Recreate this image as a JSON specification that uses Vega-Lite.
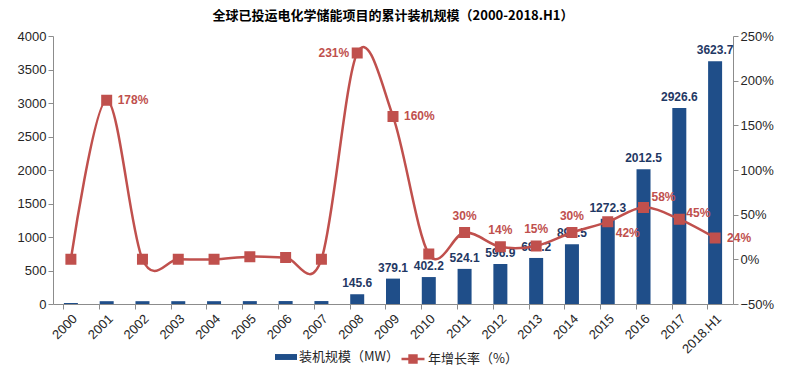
{
  "$schema": "https://vega.github.io/schema/vega-lite/v6.json",
  "width": 680,
  "height": 268,
  "autosize": {"type": "none"},
  "padding": {"left": 53, "top": 36, "right": 56, "bottom": 79},
  "background": "white",
  "title": {
    "text": "全球已投运电化学储能项目的累计装机规模（2000-2018.H1）",
    "font": "Noto Sans CJK SC",
    "fontSize": 13,
    "fontWeight": "bold",
    "color": "#000000",
    "anchor": "middle",
    "offset": 7
  },
  "config": {
    "view": {"stroke": null},
    "axis": {
      "labelFont": "Liberation Sans",
      "labelFontSize": 13,
      "labelColor": "#262626",
      "domainColor": "#8c8c8c",
      "tickColor": "#8c8c8c",
      "grid": false,
      "title": null
    },
    "legend": {
      "labelFont": "Noto Sans CJK SC",
      "labelFontSize": 13,
      "labelColor": "#262626"
    }
  },
  "data": {
    "values": [
      {"year": "2000", "mw": 15, "g": 0},
      {"year": "2001", "mw": 42, "g": 1.78},
      {"year": "2002", "mw": 42, "g": 0},
      {"year": "2003", "mw": 42, "g": 0},
      {"year": "2004", "mw": 42, "g": 0},
      {"year": "2005", "mw": 43, "g": 0.03},
      {"year": "2006", "mw": 44, "g": 0.02},
      {"year": "2007", "mw": 44, "g": 0},
      {"year": "2008", "mw": 145.6, "g": 2.31},
      {"year": "2009", "mw": 379.1, "g": 1.6},
      {"year": "2010", "mw": 402.2, "g": 0.06},
      {"year": "2011", "mw": 524.1, "g": 0.3},
      {"year": "2012", "mw": 596.9, "g": 0.14},
      {"year": "2013", "mw": 687.2, "g": 0.15},
      {"year": "2014", "mw": 893.5, "g": 0.3},
      {"year": "2015", "mw": 1272.3, "g": 0.42},
      {"year": "2016", "mw": 2012.5, "g": 0.58},
      {"year": "2017", "mw": 2926.6, "g": 0.45},
      {"year": "2018.H1", "mw": 3623.7, "g": 0.24}
    ]
  },
  "encoding": {
    "x": {
      "field": "year",
      "type": "nominal",
      "sort": null,
      "scale": {"paddingInner": 0.6, "paddingOuter": 0.3},
      "axis": {
        "labelAngle": -45,
        "bandPosition": 0,
        "tickSize": 5,
        "labelPadding": 3
      }
    }
  },
  "layer": [
    {
      "encoding": {
        "y": {
          "field": "mw",
          "type": "quantitative",
          "scale": {"domain": [0, 4000]},
          "axis": {
            "orient": "left",
            "format": "d",
            "values": [0, 500, 1000, 1500, 2000, 2500, 3000, 3500, 4000],
            "tickSize": 5
          }
        }
      },
      "layer": [
        {
          "mark": {"type": "bar", "size": 14},
          "encoding": {
            "fill": {
              "datum": "装机规模（MW）",
              "scale": {"range": ["#1F4E89"]},
              "legend": {
                "title": null,
                "orient": "none",
                "legendX": 222,
                "legendY": 310,
                "symbolType": "M-1,-0.27H1V0.27H-1Z",
                "symbolSize": 484,
                "symbolStrokeWidth": 0,
                "labelOffset": 2
              }
            }
          }
        },
        {
          "transform": [
            {"filter": {"field": "year", "oneOf": ["2008", "2009", "2010", "2011", "2012", "2013", "2014", "2015", "2016", "2017", "2018.H1"]}}
          ],
          "mark": {
            "type": "text",
            "baseline": "bottom",
            "dy": -4,
            "font": "Liberation Sans",
            "fontSize": 12,
            "fontWeight": "bold",
            "color": "#1F3864"
          },
          "encoding": {
            "text": {"field": "mw", "type": "quantitative", "format": ".1f"}
          }
        }
      ]
    },
    {
      "encoding": {
        "y": {
          "field": "g",
          "type": "quantitative",
          "scale": {"domain": [-0.5, 2.5]},
          "axis": {
            "orient": "right",
            "format": ".0%",
            "values": [-0.5, 0, 0.5, 1, 1.5, 2, 2.5],
            "tickSize": 5
          }
        }
      },
      "layer": [
        {
          "mark": {
            "type": "line",
            "interpolate": "cardinal",
            "strokeWidth": 2.5,
            "point": {"filled": true, "shape": "square", "size": 81, "color": "#C0504D"}
          },
          "encoding": {
            "stroke": {
              "datum": "年增长率（%）",
              "scale": {"range": ["#C0504D"]},
              "legend": {
                "title": null,
                "orient": "none",
                "legendX": 347,
                "legendY": 310,
                "symbolType": "M-1,0H1M-0.3,-0.3H0.3V0.3H-0.3Z",
                "symbolSize": 529,
                "symbolStrokeWidth": 2.5,
                "symbolFillColor": "#C0504D",
                "labelOffset": 2
              }
            }
          }
        },
        {
          "transform": [{"filter": {"field": "year", "oneOf": ["2001", "2009"]}}],
          "mark": {"type": "text", "align": "left", "baseline": "middle", "dx": 11, "font": "Liberation Sans", "fontSize": 12, "fontWeight": "bold", "color": "#C0504D"},
          "encoding": {"text": {"field": "g", "type": "quantitative", "format": ".0%"}}
        },
        {
          "transform": [{"filter": {"field": "year", "oneOf": ["2008"]}}],
          "mark": {"type": "text", "align": "right", "baseline": "middle", "dx": -8, "font": "Liberation Sans", "fontSize": 12, "fontWeight": "bold", "color": "#C0504D"},
          "encoding": {"text": {"field": "g", "type": "quantitative", "format": ".0%"}}
        },
        {
          "transform": [{"filter": {"field": "year", "oneOf": ["2011", "2012", "2013", "2014"]}}],
          "mark": {"type": "text", "align": "center", "baseline": "middle", "dy": -17, "font": "Liberation Sans", "fontSize": 12, "fontWeight": "bold", "color": "#C0504D"},
          "encoding": {"text": {"field": "g", "type": "quantitative", "format": ".0%"}}
        },
        {
          "transform": [{"filter": {"field": "year", "oneOf": ["2015"]}}],
          "mark": {"type": "text", "align": "left", "baseline": "middle", "dx": 8, "dy": 11, "font": "Liberation Sans", "fontSize": 12, "fontWeight": "bold", "color": "#C0504D"},
          "encoding": {"text": {"field": "g", "type": "quantitative", "format": ".0%"}}
        },
        {
          "transform": [{"filter": {"field": "year", "oneOf": ["2016"]}}],
          "mark": {"type": "text", "align": "left", "baseline": "middle", "dx": 8, "dy": -11, "font": "Liberation Sans", "fontSize": 12, "fontWeight": "bold", "color": "#C0504D"},
          "encoding": {"text": {"field": "g", "type": "quantitative", "format": ".0%"}}
        },
        {
          "transform": [{"filter": {"field": "year", "oneOf": ["2017"]}}],
          "mark": {"type": "text", "align": "left", "baseline": "middle", "dx": 7, "dy": -6, "font": "Liberation Sans", "fontSize": 12, "fontWeight": "bold", "color": "#C0504D"},
          "encoding": {"text": {"field": "g", "type": "quantitative", "format": ".0%"}}
        },
        {
          "transform": [{"filter": {"field": "year", "oneOf": ["2018.H1"]}}],
          "mark": {"type": "text", "align": "left", "baseline": "middle", "dx": 12, "font": "Liberation Sans", "fontSize": 12, "fontWeight": "bold", "color": "#C0504D"},
          "encoding": {"text": {"field": "g", "type": "quantitative", "format": ".0%"}}
        }
      ]
    }
  ],
  "resolve": {"scale": {"y": "independent", "fill": "independent", "stroke": "independent"}}
}
